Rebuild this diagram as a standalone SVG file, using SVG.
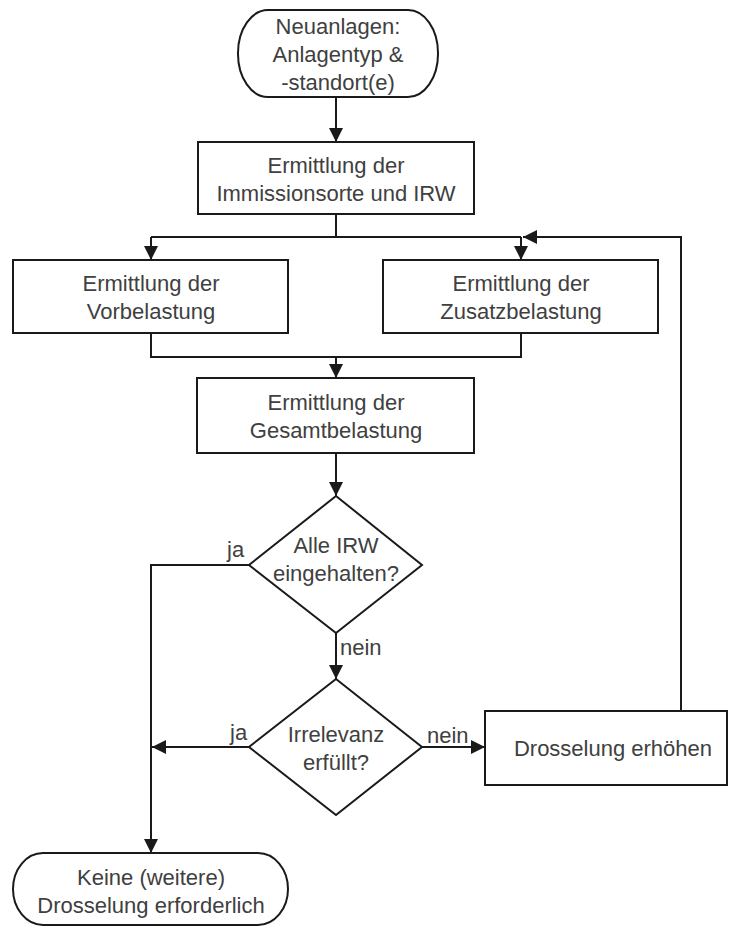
<svg xmlns="http://www.w3.org/2000/svg" width="729" height="927" viewBox="0 0 729 927">
<style>
.shape{fill:#ffffff;stroke:#1a1a1a;stroke-width:2}
.line{fill:none;stroke:#1a1a1a;stroke-width:2}
text{font-family:"Liberation Sans",Arial,sans-serif;font-size:22px;fill:#404040}
.c{text-anchor:middle}
</style>
<defs>
<marker id="arr" markerUnits="userSpaceOnUse" markerWidth="15" markerHeight="15" refX="14" refY="7" orient="auto">
<path d="M0,0 L14,7 L0,14 z" fill="#1a1a1a"/>
</marker>
</defs>
<rect width="729" height="927" fill="#ffffff"/>
<g id="connectors">
<path class="line" d="M336,97 L336,142" marker-end="url(#arr)"/>
<path class="line" d="M336,214 L336,237"/>
<path class="line" d="M151,237 L521,237"/>
<path class="line" d="M151,237 L151,260" marker-end="url(#arr)"/>
<path class="line" d="M521,237 L521,260" marker-end="url(#arr)"/>
<path class="line" d="M681,711 L681,237 L523,237" marker-end="url(#arr)"/>
<path class="line" d="M151,333 L151,357 L521,357 L521,333"/>
<path class="line" d="M336,357 L336,378" marker-end="url(#arr)"/>
<path class="line" d="M336,453 L336,496" marker-end="url(#arr)"/>
<path class="line" d="M249,565 L151,565 L151,853" marker-end="url(#arr)"/>
<path class="line" d="M336,633 L336,679" marker-end="url(#arr)"/>
<path class="line" d="M249,747 L152,747" marker-end="url(#arr)"/>
<path class="line" d="M422,747 L485,747" marker-end="url(#arr)"/>
<text x="227" y="557">ja</text>
<text x="340" y="655">nein</text>
<text x="230" y="740">ja</text>
<text x="427" y="743">nein</text>
</g>
<g id="start">
<rect class="shape" x="238" y="10" width="200" height="87" rx="30" ry="43"/>
<text class="c" x="338" y="34">Neuanlagen:</text>
<text class="c" x="338" y="62">Anlagentyp &amp;</text>
<text class="c" x="338" y="90">-standort(e)</text>
</g>
<g id="immissionsorte">
<rect class="shape" x="198" y="142" width="276" height="72"/>
<text class="c" x="336" y="173">Ermittlung der</text>
<text class="c" x="336" y="201">Immissionsorte und IRW</text>
</g>
<g id="vorbelastung">
<rect class="shape" x="13" y="260" width="275" height="73"/>
<text class="c" x="151" y="291">Ermittlung der</text>
<text class="c" x="151" y="319">Vorbelastung</text>
</g>
<g id="zusatzbelastung">
<rect class="shape" x="383" y="260" width="275" height="73"/>
<text class="c" x="521" y="291">Ermittlung der</text>
<text class="c" x="521" y="319">Zusatzbelastung</text>
</g>
<g id="gesamtbelastung">
<rect class="shape" x="197" y="378" width="277" height="75"/>
<text class="c" x="336" y="410">Ermittlung der</text>
<text class="c" x="336" y="438">Gesamtbelastung</text>
</g>
<g id="irw">
<polygon class="shape" points="336,496 422,565 336,633 249,565"/>
<text class="c" x="336" y="553">Alle IRW</text>
<text class="c" x="336" y="581">eingehalten?</text>
</g>
<g id="irrelevanz">
<polygon class="shape" points="336,679 422,747 336,815 249,747"/>
<text class="c" x="336" y="742">Irrelevanz</text>
<text class="c" x="336" y="770">erfüllt?</text>
</g>
<g id="drosselung">
<rect class="shape" x="485" y="711" width="242" height="74"/>
<text class="c" x="613" y="756">Drosselung erhöhen</text>
</g>
<g id="ende">
<rect class="shape" x="13" y="853" width="275" height="72" rx="30" ry="36"/>
<text class="c" x="151" y="885">Keine (weitere)</text>
<text class="c" x="151" y="913">Drosselung erforderlich</text>
</g>
</svg>
